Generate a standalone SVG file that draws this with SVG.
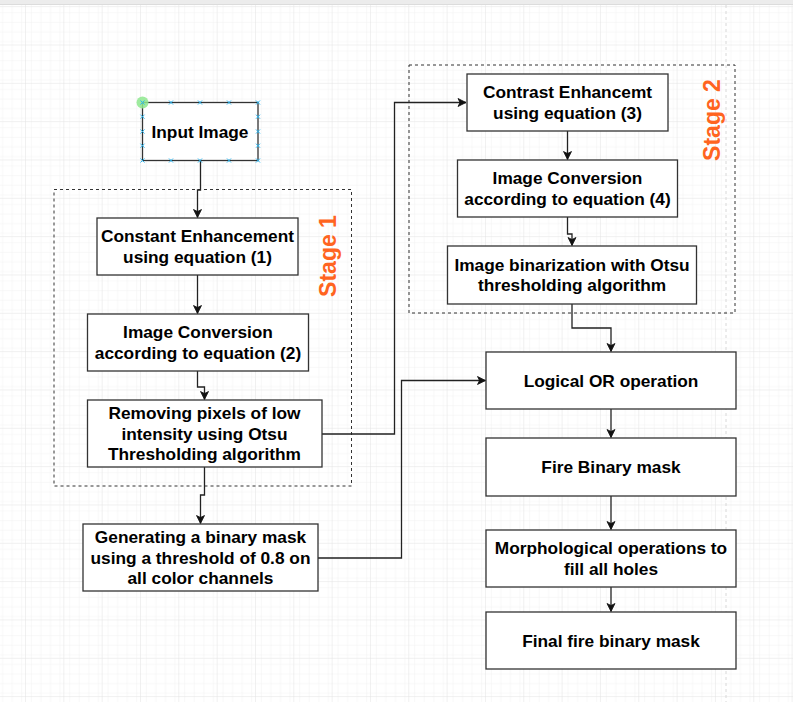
<svg xmlns="http://www.w3.org/2000/svg" width="793" height="702" viewBox="0 0 793 702">
<defs>
<pattern id="minor" patternUnits="userSpaceOnUse" x="25" y="44.5" width="9.583" height="9.583">
<path d="M0,0 H9.583 M0,0 V9.583" fill="none" stroke="#f1f1f1" stroke-width="1"/>
</pattern>
<pattern id="major" patternUnits="userSpaceOnUse" x="25" y="44.5" width="38.33" height="38.33">
<rect width="38.33" height="38.33" fill="url(#minor)"/>
<path d="M0,0 H38.33 M0,0 V38.33" fill="none" stroke="#e2e2e2" stroke-width="1"/>
</pattern>
<marker id="arr" markerUnits="userSpaceOnUse" markerWidth="10" markerHeight="10" viewBox="0 0 10 10" refX="9" refY="5" orient="auto">
<path d="M1,1 L9,5 L1,9 L3,5 z" fill="#111" stroke="#111" stroke-width="0.8" stroke-linejoin="miter"/>
</marker>
</defs>
<style>
.box{fill:#fff;stroke:#333;stroke-width:1.3}
.t{font-family:"Liberation Sans",Arial,sans-serif;font-weight:bold;font-size:17.3px;fill:#000;text-anchor:middle}
.stage{font-family:"Liberation Sans",Arial,sans-serif;font-weight:bold;font-size:23px;fill:#FF6420;text-anchor:middle}
.cont{fill:none;stroke:#333;stroke-width:1;stroke-dasharray:3,3}
.edge{fill:none;stroke:#222;stroke-width:1.3;marker-end:url(#arr)}
.h{stroke:#29b6f2;stroke-width:1;fill:none}
</style>
<rect width="793" height="702" fill="#fff"/>
<rect width="793" height="702" fill="url(#major)"/>
<rect x="0" y="0" width="793" height="4" fill="#ececec"/>
<line x1="0" y1="4.5" x2="793" y2="4.5" stroke="#dcdcdc" stroke-width="1"/>
<line x1="726" y1="5" x2="726" y2="702" stroke="#d8d8d8" stroke-width="1" stroke-dasharray="3,3"/>

<g id="stage1">
<rect class="cont" x="54" y="189.5" width="297.5" height="296.5"/>
<text class="stage" transform="translate(336,256) rotate(-90)">Stage 1</text>
</g>
<g id="stage2">
<rect class="cont" x="409" y="65" width="326" height="248"/>
<text class="stage" transform="translate(720,120) rotate(-90)">Stage 2</text>
</g>

<g id="connectors">
<path class="edge" d="M200.5,160.5 V190 H197.5 V217.5"/>
<path class="edge" d="M197.5,275 V313.5"/>
<path class="edge" d="M197.5,371 V387 H204.5 V399.5"/>
<path class="edge" d="M204.5,467 V495 H200.5 V523.5"/>
<path class="edge" d="M322,434 H394.5 V102.5 H466"/>
<path class="edge" d="M318,558 H401.5 V380.5 H485.5"/>
<path class="edge" d="M567.5,131 V159.5"/>
<path class="edge" d="M567.5,217 V234 H572 V245.5"/>
<path class="edge" d="M572,304 V328 H611 V351.5"/>
<path class="edge" d="M611,409 V437.5"/>
<path class="edge" d="M611,496 V529.5"/>
<path class="edge" d="M611,587 V611.5"/>
</g>

<g id="input">
<rect class="box" x="142.5" y="102.5" width="115.5" height="58"/>
<text class="t" x="200" y="137.5">Input Image</text>
<circle cx="142.5" cy="102.5" r="6" fill="#8ee88e" opacity="0.85"/>
<path class="h" d="M140.5,100.5 l4,4 m0,-4 l-4,4 M169,100.5 l4,4 m0,-4 l-4,4 M198,100.5 l4,4 m0,-4 l-4,4 M227,100.5 l4,4 m0,-4 l-4,4 M256,100.5 l4,4 m0,-4 l-4,4 M140.5,158.5 l4,4 m0,-4 l-4,4 M169,158.5 l4,4 m0,-4 l-4,4 M198,158.5 l4,4 m0,-4 l-4,4 M227,158.5 l4,4 m0,-4 l-4,4 M256,158.5 l4,4 m0,-4 l-4,4 M140.5,114.7 l4,4 m0,-4 l-4,4 M140.5,129.5 l4,4 m0,-4 l-4,4 M140.5,143.7 l4,4 m0,-4 l-4,4 M256,114.7 l4,4 m0,-4 l-4,4 M256,129.5 l4,4 m0,-4 l-4,4 M256,143.7 l4,4 m0,-4 l-4,4"/>
</g>

<g id="ce1">
<rect class="box" x="97" y="218" width="201" height="57"/>
<text class="t" x="197.5" y="242">Constant Enhancement</text>
<text class="t" x="197.5" y="262.5">using equation (1)</text>
</g>
<g id="ic2">
<rect class="box" x="87.5" y="314" width="221" height="57"/>
<text class="t" x="198" y="338">Image Conversion</text>
<text class="t" x="198" y="358.5">according to equation (2)</text>
</g>
<g id="remove">
<rect class="box" x="87.5" y="400" width="234.5" height="67"/>
<text class="t" x="204.5" y="419">Removing pixels of low</text>
<text class="t" x="204.5" y="439.5">intensity using Otsu</text>
<text class="t" x="204.5" y="460">Thresholding algorithm</text>
</g>
<g id="generate">
<rect class="box" x="83" y="524" width="235" height="67"/>
<text class="t" x="200.5" y="543">Generating a binary mask</text>
<text class="t" x="200.5" y="563.5">using a threshold of 0.8 on</text>
<text class="t" x="200.5" y="584">all color channels</text>
</g>
<g id="ce3">
<rect class="box" x="467" y="74" width="201" height="57"/>
<text class="t" x="567.5" y="98">Contrast Enhancemt</text>
<text class="t" x="567.5" y="118.5">using equation (3)</text>
</g>
<g id="ic4">
<rect class="box" x="457.5" y="160" width="220" height="57"/>
<text class="t" x="567.5" y="184">Image Conversion</text>
<text class="t" x="567.5" y="204.5">according to equation (4)</text>
</g>
<g id="binarize">
<rect class="box" x="447.5" y="246" width="249" height="58"/>
<text class="t" x="572" y="270.5">Image binarization with Otsu</text>
<text class="t" x="572" y="291">thresholding algorithm</text>
</g>
<g id="or">
<rect class="box" x="486" y="352" width="250" height="57"/>
<text class="t" x="611" y="386.5">Logical OR operation</text>
</g>
<g id="fire">
<rect class="box" x="486" y="438" width="250" height="58"/>
<text class="t" x="611" y="473">Fire Binary mask</text>
</g>
<g id="morph">
<rect class="box" x="486" y="530" width="250" height="57"/>
<text class="t" x="611" y="554">Morphological operations to</text>
<text class="t" x="611" y="574.5">fill all holes</text>
</g>
<g id="final">
<rect class="box" x="486" y="612" width="250" height="57"/>
<text class="t" x="611" y="646.5">Final fire binary mask</text>
</g>
</svg>
